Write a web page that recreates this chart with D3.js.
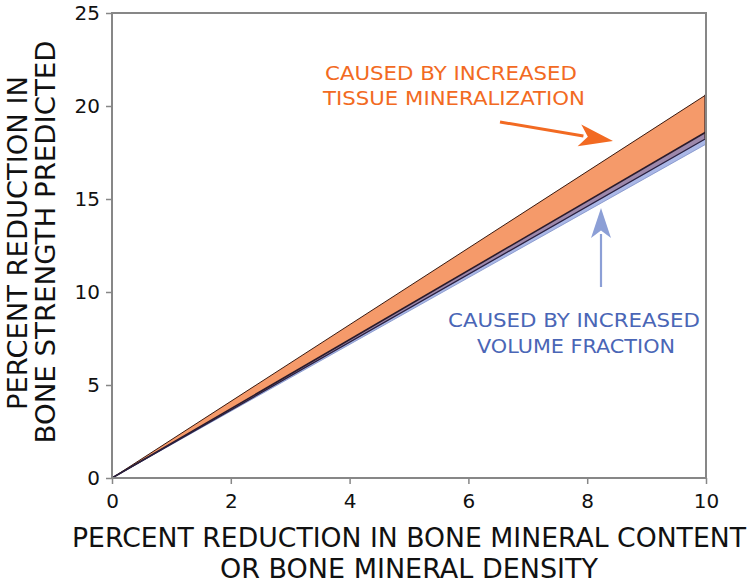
<!DOCTYPE html>
<html>
<head>
<meta charset="utf-8">
<script src="https://cdn.jsdelivr.net/npm/d3@7"></script>
<style>
  html, body { margin: 0; padding: 0; background: #fff; }
  svg { display: block; }
  text { font-family: "DejaVu Sans", Verdana, sans-serif; }
</style>
</head>
<body>
<svg id="chart" width="750" height="584"></svg>
<script>
// ---- data ----
const bmdReduction = [0, 10];                 // x: percent reduction in BMC/BMD
const strengthTotal = [0, 20.6];              // top of tissue-mineralization band
const strengthVolumeTop = [0, 18.6];          // top of volume-fraction band
const strengthVolumeMid = [0, 18.25];         // boundary inside volume-fraction band
const strengthVolumeBottom = [0, 17.95];      // bottom of volume-fraction band
const xTicks = [0, 2, 4, 6, 8, 10];
const yTicks = [0, 5, 10, 15, 20, 25];
const yTitle = ["PERCENT REDUCTION IN", "BONE STRENGTH PREDICTED"];
const xTitle = ["PERCENT REDUCTION IN BONE MINERAL CONTENT", "OR BONE MINERAL DENSITY"];
const tissueNote = ["CAUSED BY INCREASED", "TISSUE MINERALIZATION"];
const volumeNote = ["CAUSED BY INCREASED", "VOLUME FRACTION"];

const rows = bmdReduction.map((x, i) => ({
  x, top: strengthTotal[i], vTop: strengthVolumeTop[i],
  vMid: strengthVolumeMid[i], vBot: strengthVolumeBottom[i]
}));

const svg = d3.select("#chart");
const pL = 112, pR = 706, pT = 13, pB = 478;
const x = d3.scaleLinear().domain([0, 10]).range([pL, pR]);
const y = d3.scaleLinear().domain([0, 25]).range([pB, pT]);

const grey = "#878787";

// bands
const band = (a, b) => d3.area().x(d => x(d.x)).y0(d => y(d[b])).y1(d => y(d[a]));
svg.append("path").datum(rows).attr("d", band("vMid", "vBot"))
  .attr("fill", "#aab7e6").attr("stroke", "#7f90c8").attr("stroke-width", 0.8);
svg.append("path").datum(rows).attr("d", band("vTop", "vMid"))
  .attr("fill", "#9d88ab").attr("stroke", "none");
svg.append("path").datum(rows).attr("d", band("top", "vTop"))
  .attr("fill", "#f59a6a").attr("stroke", "none");

const line = key => d3.line().x(d => x(d.x)).y(d => y(d[key]));
svg.append("path").datum(rows).attr("d", line("top"))
  .attr("fill", "none").attr("stroke", "#3a1a10").attr("stroke-width", 1);
svg.append("path").datum(rows).attr("d", line("vTop"))
  .attr("fill", "none").attr("stroke", "#2a1a2a").attr("stroke-width", 1.6);
svg.append("path").datum(rows).attr("d", line("vMid"))
  .attr("fill", "none").attr("stroke", "#2a2040").attr("stroke-width", 1.3);
// right edge of bands
const last = rows[rows.length - 1];
svg.append("line").attr("x1", x(last.x) - 1).attr("x2", x(last.x) - 1)
  .attr("y1", y(last.top)).attr("y2", y(last.vMid))
  .attr("stroke", "#3a2020").attr("stroke-width", 1.2);

// frame
svg.append("rect").attr("x", pL).attr("y", pT)
  .attr("width", pR - pL).attr("height", pB - pT)
  .attr("fill", "none").attr("stroke", grey).attr("stroke-width", 2);

// axes
const xAxis = svg.append("g").attr("transform", `translate(0,${pB})`)
  .call(d3.axisBottom(x).tickValues(xTicks).tickSize(6).tickPadding(10).tickFormat(d3.format("d")));
const yAxis = svg.append("g").attr("transform", `translate(${pL},0)`)
  .call(d3.axisLeft(y).tickValues(yTicks).tickSize(6).tickPadding(6).tickFormat(d3.format("d")));
[xAxis, yAxis].forEach(g => {
  g.select(".domain").remove();
  g.selectAll(".tick line").attr("stroke", grey).attr("stroke-width", 1.5);
  g.selectAll(".tick text").attr("fill", "#111").style("font-size", "20px")
    .style("font-family", "'DejaVu Sans', sans-serif");
});

// axis titles
svg.append("text").attr("transform", "translate(27,243) rotate(-90)")
  .attr("text-anchor", "middle").attr("font-size", 26).attr("fill", "#111")
  .attr("textLength", 334).attr("lengthAdjust", "spacingAndGlyphs").text(yTitle[0]);
svg.append("text").attr("transform", "translate(55,242) rotate(-90)")
  .attr("text-anchor", "middle").attr("font-size", 26).attr("fill", "#111")
  .attr("textLength", 403).attr("lengthAdjust", "spacingAndGlyphs").text(yTitle[1]);
svg.append("text").attr("x", 409).attr("y", 547)
  .attr("text-anchor", "middle").attr("font-size", 26).attr("fill", "#111")
  .attr("textLength", 674).attr("lengthAdjust", "spacingAndGlyphs").text(xTitle[0]);
svg.append("text").attr("x", 409).attr("y", 578)
  .attr("text-anchor", "middle").attr("font-size", 26).attr("fill", "#111")
  .attr("textLength", 378).attr("lengthAdjust", "spacingAndGlyphs").text(xTitle[1]);

// annotations
const orange = "#f26a22", blue = "#4a66b6";
svg.append("text").attr("x", 451).attr("y", 80).attr("text-anchor", "middle")
  .attr("font-size", 20).attr("fill", orange)
  .attr("textLength", 252).attr("lengthAdjust", "spacingAndGlyphs").text(tissueNote[0]);
svg.append("text").attr("x", 454).attr("y", 105).attr("text-anchor", "middle")
  .attr("font-size", 20).attr("fill", orange)
  .attr("textLength", 262).attr("lengthAdjust", "spacingAndGlyphs").text(tissueNote[1]);
svg.append("text").attr("x", 574).attr("y", 327).attr("text-anchor", "middle")
  .attr("font-size", 20).attr("fill", blue)
  .attr("textLength", 252).attr("lengthAdjust", "spacingAndGlyphs").text(volumeNote[0]);
svg.append("text").attr("x", 576).attr("y", 353).attr("text-anchor", "middle")
  .attr("font-size", 20).attr("fill", blue)
  .attr("textLength", 198).attr("lengthAdjust", "spacingAndGlyphs").text(volumeNote[1]);

// arrows
function arrow(x1, y1, x2, y2, color, w, headLen, headW) {
  const ang = Math.atan2(y2 - y1, x2 - x1);
  const bx = x2 - headLen * Math.cos(ang), by = y2 - headLen * Math.sin(ang);
  svg.append("line").attr("x1", x1).attr("y1", y1).attr("x2", bx + 4 * Math.cos(ang)).attr("y2", by + 4 * Math.sin(ang))
    .attr("stroke", color).attr("stroke-width", w);
  const px = -Math.sin(ang) * headW / 2, py = Math.cos(ang) * headW / 2;
  const nx = x2 - (headLen * 0.75) * Math.cos(ang), ny = y2 - (headLen * 0.75) * Math.sin(ang);
  svg.append("path")
    .attr("d", `M${x2},${y2} L${bx + px},${by + py} L${nx},${ny} L${bx - px},${by - py} Z`)
    .attr("fill", color);
}
arrow(500, 122, 613, 141, orange, 3, 34, 22);
arrow(601, 287, 601, 208, "#8c9fd6", 2.2, 30, 20);
</script>
</body>
</html>
